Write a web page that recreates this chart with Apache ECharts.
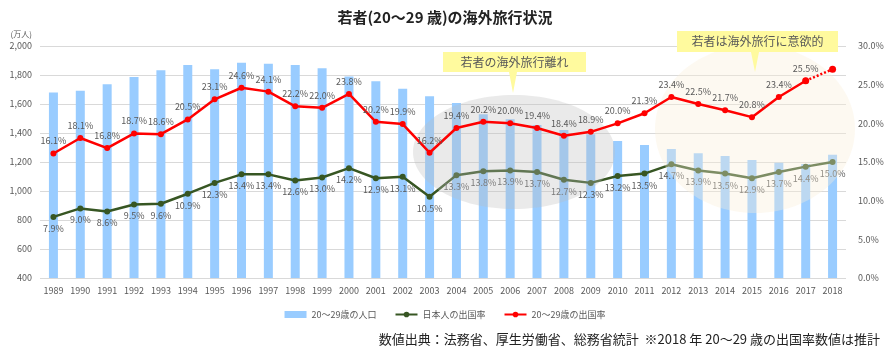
<!DOCTYPE html>
<html>
<head>
<meta charset="utf-8">
<script src="https://cdn.jsdelivr.net/npm/echarts@6/dist/echarts.min.js"></script>
<style>
  html, body { margin: 0; padding: 0; background: #fff; }
  #chart { width: 890px; height: 352px; }
</style>
</head>
<body>
<div id="chart"></div>
<script>
// 年
var years = ['1989','1990','1991','1992','1993','1994','1995','1996','1997','1998',
  '1999','2000','2001','2002','2003','2004','2005','2006','2007','2008',
  '2009','2010','2011','2012','2013','2014','2015','2016','2017','2018'];
// 20～29歳の人口（万人）
var population = [1680, 1692, 1736, 1786, 1832, 1869, 1839, 1885, 1878, 1869,
  1846, 1789, 1757, 1706, 1653, 1607, 1529, 1494, 1455, 1421,
  1392, 1345, 1317, 1290, 1260, 1241, 1214, 1195, 1186, 1250];
// 日本人の出国率（%）
var japanRate = [7.9, 9.0, 8.6, 9.5, 9.6, 10.9, 12.3, 13.4, 13.4, 12.6,
  13.0, 14.2, 12.9, 13.1, 10.5, 13.3, 13.8, 13.9, 13.7, 12.7,
  12.3, 13.2, 13.5, 14.7, 13.9, 13.5, 12.9, 13.7, 14.4, 15.0];
// 20～29歳の出国率（%）、2018年は推計
var youthRate = [16.1, 18.1, 16.8, 18.7, 18.6, 20.5, 23.1, 24.6, 24.1, 22.2,
  22.0, 23.8, 20.2, 19.9, 16.2, 19.4, 20.2, 20.0, 19.4, 18.4,
  18.9, 20.0, 21.3, 23.4, 22.5, 21.7, 20.8, 23.4, 25.5, 27.0];
// 左軸・右軸の目盛り
var leftAxis = { min: 400, max: 2000, interval: 200 };
var rightAxis = { min: 0, max: 30, interval: 5 };

var jp = '"Noto Sans CJK JP", "Noto Sans", sans-serif';
var gray = '#595959';

// 実績部分（最後の推計値を除く）と推計の点線部分
var last = youthRate.length - 1;
var youthSolid = youthRate.map(function (v, i) { return i < last ? v : null; });
var youthDotted = youthRate.map(function (v, i) { return i >= last - 1 ? v : null; });

var chart = echarts.init(document.getElementById('chart'));

function callout(x, y, w, h, tipX, tipY, text) {
  return [{
    type: 'polygon',
    z: 10,
    shape: {
      points: [[x, y], [x + w, y], [x + w, y + h], [tipX + 4, y + h],
        [tipX, tipY], [tipX - 4, y + h], [x, y + h]]
    },
    style: { fill: '#FFFA9E' }
  }, {
    type: 'text',
    z: 11,
    x: x + w / 2,
    y: y + h / 2,
    style: {
      text: text, fill: gray, font: '12px ' + jp,
      textAlign: 'center', textVerticalAlign: 'middle'
    }
  }];
}

var option = {
  animation: false,
  textStyle: { fontFamily: jp },
  title: {
    text: '若者(20～29 歳)の海外旅行状況',
    left: 'center',
    top: 5,
    textStyle: { fontSize: 15, fontWeight: 'bold', color: '#222', fontFamily: jp }
  },
  grid: { left: 40, right: 44, top: 46, bottom: 74 },
  legend: {
    bottom: 28,
    left: 'center',
    itemWidth: 22,
    itemHeight: 7,
    itemGap: 18,
    textStyle: { fontSize: 9, color: gray },
    data: [
      { name: '20～29歳の人口', icon: 'rect' },
      '日本人の出国率',
      '20～29歳の出国率'
    ]
  },
  xAxis: {
    type: 'category',
    data: years,
    axisLine: { show: false },
    axisTick: { show: false },
    axisLabel: { fontSize: 9, color: gray, margin: 8 }
  },
  yAxis: [{
    type: 'value',
    name: '(万人)',
    nameLocation: 'end',
    nameGap: 8,
    nameTextStyle: { fontSize: 8, color: gray, align: 'right', padding: [0, 8, 0, 0] },
    min: leftAxis.min, max: leftAxis.max, interval: leftAxis.interval,
    axisLabel: {
      fontSize: 9, color: gray, margin: 8,
      formatter: function (v) { return v.toLocaleString('en-US'); }
    },
    splitLine: { lineStyle: { color: '#D9D9D9' } }
  }, {
    type: 'value',
    min: rightAxis.min, max: rightAxis.max, interval: rightAxis.interval,
    axisLabel: {
      fontSize: 9, color: gray, margin: 12,
      formatter: function (v) { return v.toFixed(1) + '%'; }
    },
    splitLine: { show: false }
  }],
  series: [{
    name: '20～29歳の人口',
    type: 'bar',
    z: 1,
    barWidth: 9,
    itemStyle: { color: '#99CCFF' },
    data: population
  }, {
    name: '日本人の出国率',
    type: 'line',
    yAxisIndex: 1,
    z: 2,
    symbol: 'circle',
    symbolSize: 6,
    lineStyle: { color: '#375623', width: 2.5 },
    itemStyle: { color: '#375623' },
    label: {
      show: true, position: 'bottom', distance: 4,
      fontSize: 9, color: gray,
      formatter: function (p) { return p.value.toFixed(1) + '%'; }
    },
    data: japanRate
  }, {
    name: '20～29歳の出国率',
    type: 'line',
    yAxisIndex: 1,
    z: 5,
    symbol: 'circle',
    symbolSize: 6,
    lineStyle: { color: '#FF0000', width: 2.5 },
    itemStyle: { color: '#FF0000' },
    label: {
      show: true, position: 'top', distance: 5,
      fontSize: 9, color: gray,
      formatter: function (p) { return p.value.toFixed(1) + '%'; }
    },
    data: youthSolid
  }, {
    name: '20～29歳の出国率',
    type: 'line',
    yAxisIndex: 1,
    z: 5,
    symbol: 'circle',
    symbolSize: 7,
    showSymbol: true,
    lineStyle: { color: '#FF0000', width: 2.5, type: [2, 2] },
    itemStyle: { color: '#FF0000' },
    data: youthDotted
  }],
  graphic: [{
    type: 'ellipse',
    z: 3,
    shape: { cx: 514, cy: 152, rx: 101, ry: 57 },
    style: { fill: 'rgba(190,190,190,0.32)' }
  }, {
    type: 'ellipse',
    z: 3,
    shape: { cx: 755, cy: 129, rx: 100, ry: 84 },
    style: { fill: 'rgba(250,238,215,0.36)' }
  }].concat(
    callout(443, 52, 143, 20, 513, 93, '若者の海外旅行離れ'),
    callout(677, 31, 161, 21, 755, 72, '若者は海外旅行に意欲的'),
    [{
      type: 'text',
      right: 10,
      bottom: 6,
      z: 10,
      style: {
        text: '数値出典：法務省、厚生労働省、総務省統計  ※2018 年 20～29 歳の出国率数値は推計',
        fill: '#222', font: '13px ' + jp
      }
    }]
  )
};

chart.setOption(option);
</script>
</body>
</html>
